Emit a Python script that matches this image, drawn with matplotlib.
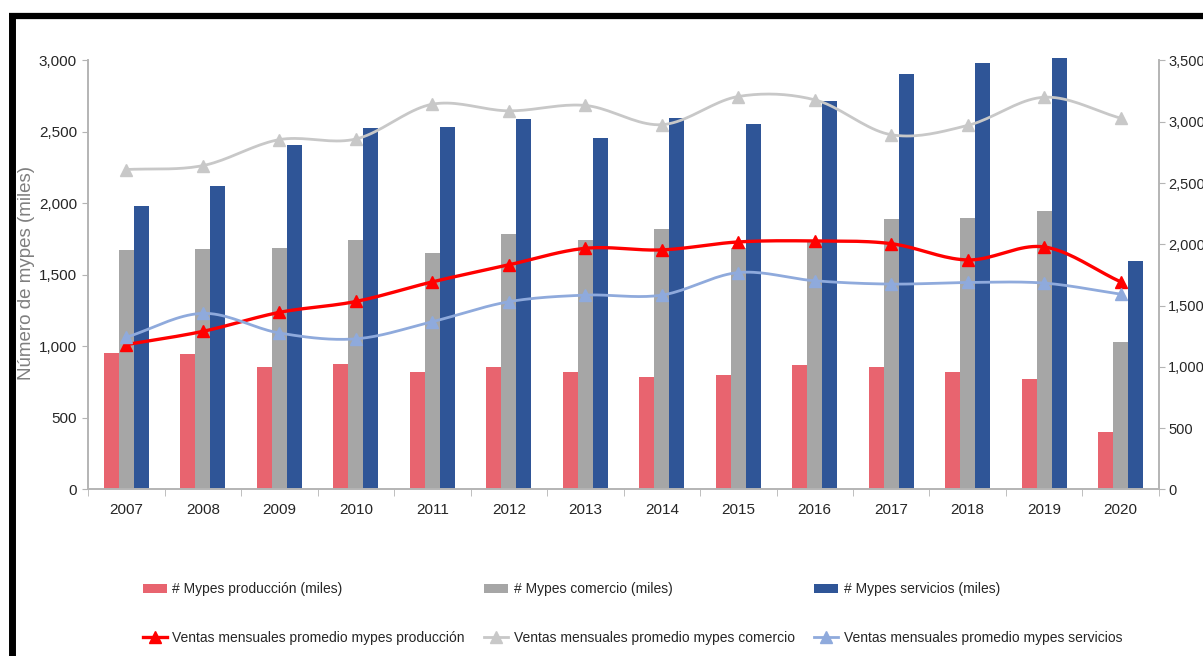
import matplotlib
matplotlib.use("Agg")
import matplotlib.pyplot as plt
from matplotlib.lines import Line2D
import numpy as np

plt.rcParams['font.family'] = ['Liberation Sans', 'DejaVu Sans']

# Datos
years = ['2007', '2008', '2009', '2010', '2011', '2012', '2013',
         '2014', '2015', '2016', '2017', '2018', '2019', '2020']

# barras (eje izquierdo, miles)
mypes_produccion = [956, 949, 855, 880, 820, 855, 823, 788, 800, 868, 858, 818, 772, 400]
mypes_comercio = [1672, 1680, 1685, 1745, 1655, 1785, 1745, 1820, 1690, 1735, 1888, 1900, 1945, 1028]
mypes_servicios = [1980, 2124, 2410, 2525, 2537, 2589, 2456, 2596, 2554, 2719, 2904, 2985, 3020, 1598]

# lineas (eje derecho)
ventas_produccion = [1181, 1289, 1444, 1533, 1693, 1832, 1967, 1954, 2019, 2027, 2005, 1872, 1978, 1693]
ventas_comercio = [2610, 2642, 2854, 2859, 3143, 3089, 3133, 2976, 3206, 3179, 2894, 2970, 3200, 3029]
ventas_servicios = [1241, 1436, 1276, 1228, 1368, 1531, 1585, 1585, 1769, 1702, 1675, 1688, 1683, 1593]


def suavizar(x, y, n=20):
    # curva tipo Catmull-Rom (como la linea suavizada de Excel)
    x = np.asarray(x, float)
    y = np.asarray(y, float)
    px = np.concatenate([[2 * x[0] - x[1]], x, [2 * x[-1] - x[-2]]])
    py = np.concatenate([[2 * y[0] - y[1]], y, [2 * y[-1] - y[-2]]])
    xs, ys = [], []
    t = np.linspace(0, 1, n, endpoint=False)
    for i in range(1, len(px) - 2):
        for p, out in ((px, xs), (py, ys)):
            p0, p1, p2, p3 = p[i - 1], p[i], p[i + 1], p[i + 2]
            out.extend(0.5 * (2 * p1 + (-p0 + p2) * t + (2 * p0 - 5 * p1 + 4 * p2 - p3) * t ** 2
                              + (-p0 + 3 * p1 - 3 * p2 + p3) * t ** 3))
    xs.append(x[-1])
    ys.append(y[-1])
    return np.array(xs), np.array(ys)


c_prod = '#E8646F'
c_com = '#A6A6A6'
c_serv = '#2F5597'
c_lprod = '#FF0000'
c_lcom = '#C8C8C8'
c_lserv = '#8FAADC'
gris_eje = '#B4B4B4'
txt = '#262626'

fig = plt.figure(figsize=(12.03, 6.56), dpi=100)
ax = fig.add_axes([0.0732, 0.2541, 0.8902, 0.6537])
ax2 = ax.twinx()

x = np.arange(len(years))
w = 0.196
b1 = ax.bar(x - w, mypes_produccion, w, color=c_prod, label='# Mypes producción (miles)')
b2 = ax.bar(x, mypes_comercio, w, color=c_com, label='# Mypes comercio (miles)')
b3 = ax.bar(x + w, mypes_servicios, w, color=c_serv, label='# Mypes servicios (miles)')
for b in b3:
    b.set_clip_on(False)

series = [(ventas_produccion, c_lprod, 2.4, 'Ventas mensuales promedio mypes producción'),
          (ventas_comercio, c_lcom, 2.0, 'Ventas mensuales promedio mypes comercio'),
          (ventas_servicios, c_lserv, 2.0, 'Ventas mensuales promedio mypes servicios')]
handles_l = []
for vals, col, lw, lbl in series:
    sx, sy = suavizar(x, vals)
    ax2.plot(sx, sy, color=col, lw=lw, zorder=3)
    ax2.plot(x, vals, linestyle='none', marker='^', ms=8, color=col, zorder=4)
    handles_l.append(Line2D([], [], color=col, lw=lw, marker='^', ms=8, label=lbl))

ax.set_xlim(-0.5, len(years) - 0.5)
ax.set_ylim(0, 3000)
ax2.set_ylim(0, 3500)
ax.set_yticks(np.arange(0, 3001, 500))
ax2.set_yticks(np.arange(0, 3501, 500))
fmt = matplotlib.ticker.FuncFormatter(lambda v, p: f'{int(v):,}')
ax.yaxis.set_major_formatter(fmt)
ax2.yaxis.set_major_formatter(fmt)

ax.set_xticks(x)
ax.set_xticklabels(years)
ax.set_xticks(np.arange(-0.5, len(years)), minor=True)
ax.tick_params(axis='x', which='major', length=0, pad=10, labelsize=11, labelcolor=txt)
ax.tick_params(axis='x', which='minor', length=5, color=gris_eje, direction='out')
ax.tick_params(axis='y', length=4, color=gris_eje, labelsize=11, labelcolor=txt, pad=4)
ax2.tick_params(axis='y', length=4, color=gris_eje, labelsize=10.5, labelcolor=txt, pad=2.5)

for a in (ax, ax2):
    a.spines['top'].set_visible(False)
    for s in ('left', 'right', 'bottom'):
        a.spines[s].set_color(gris_eje)
        a.spines[s].set_linewidth(1.2)

ax.set_ylabel('Número de mypes (miles)', fontsize=13.5, color='#7F7F7F')
ax.yaxis.set_label_coords(-0.0495, 0.505)

handles = [b1, handles_l[0], b2, handles_l[1], b3, handles_l[2]]
fig.legend(handles=handles, labels=[h.get_label() for h in handles], ncol=3,
           loc='upper left', bbox_to_anchor=(0.113, 0.123), frameon=False,
           fontsize=10, handlelength=1.73, handletextpad=0.4, labelspacing=2.5,
           columnspacing=1.4, borderpad=0, numpoints=1, labelcolor=txt)

# marco negro recortado
fig.add_artist(Line2D([9 / 1203, 1.0], [1 - 15.5 / 656, 1 - 15.5 / 656], color='black', lw=4.5,
                      solid_capstyle='butt', transform=fig.transFigure))
fig.add_artist(Line2D([11.5 / 1203, 11.5 / 1203], [0, 1 - 13 / 656], color='black', lw=5,
                      solid_capstyle='butt', transform=fig.transFigure))

fig.savefig('out.png', dpi=100)
